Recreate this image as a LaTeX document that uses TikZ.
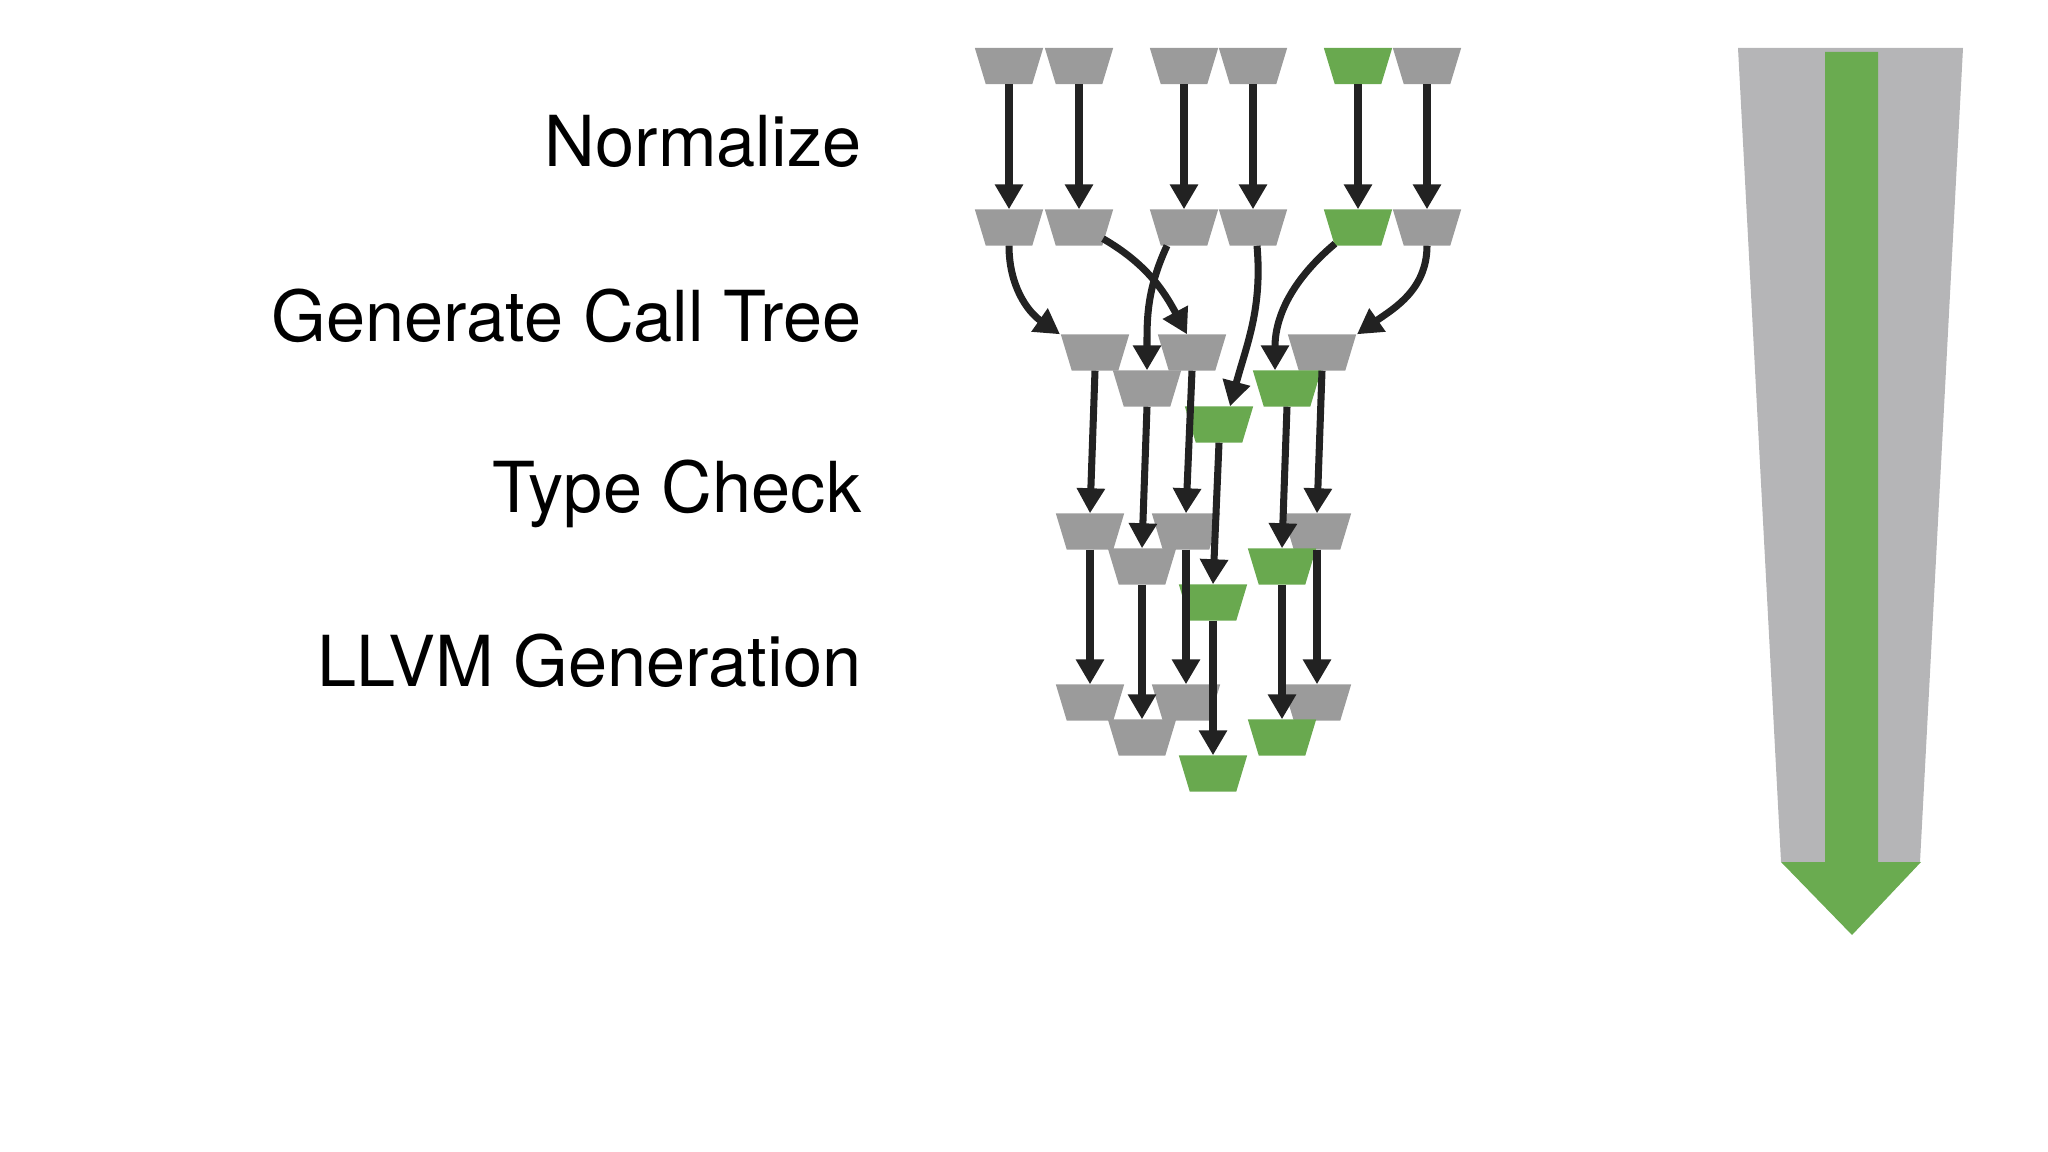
\documentclass[tikz,border=0pt]{standalone}
\usepackage{fontspec}
\setmainfont{TeX Gyre Heros}
\usetikzlibrary{arrows.meta,calc}
\definecolor{tgray}{HTML}{9B9B9B}
\definecolor{tgreen}{HTML}{69A94F}
\definecolor{bgray}{HTML}{B5B5B7}
\definecolor{bgreen}{HTML}{6AAB50}
\definecolor{arr}{HTML}{222222}
\newcommand\mytrap[4]{%
  \node[box] (#1) at (#2) {};
  \fill[#3] (#1.north west) -- (#1.north east) -- ($(#1.south east)+(-11,0)$) -- ($(#1.south west)+(11,0)$) -- cycle;}
\begin{document}
\begin{tikzpicture}[x=0.01cm,y=-0.01cm,
  box/.style={rectangle, minimum width=0.67cm, minimum height=0.35cm, inner sep=0pt, draw=none},
  ar/.style={draw=arr, line width=2pt, -{Triangle[width=0.27cm,length=0.25cm]}},
  lab/.style={anchor=base east, font=\fontsize{20}{24}\selectfont, text=black, inner sep=0pt}]
\useasboundingbox (0,0) rectangle (2048,1152);
% labels
\node[lab] (l1) at (862,167) {Normalize};
\node[lab] (l2) at (862,342) {Generate Call Tree};
\node[lab] (l3) at (862,512) {Type Check};
\node[lab] (l4) at (862,686) {LLVM Generation};
% row 1
\mytrap{a1}{1009,66}{tgray}{} \mytrap{a2}{1079,66}{tgray}{}
\mytrap{a3}{1184,66}{tgray}{} \mytrap{a4}{1253,66}{tgray}{}
\mytrap{a5}{1358,66}{tgreen}{} \mytrap{a6}{1427,66}{tgray}{}
% row 2
\mytrap{b1}{1009,227.5}{tgray}{} \mytrap{b2}{1079,227.5}{tgray}{}
\mytrap{b3}{1184,227.5}{tgray}{} \mytrap{b4}{1253,227.5}{tgray}{}
\mytrap{b5}{1358,227.5}{tgreen}{} \mytrap{b6}{1427,227.5}{tgray}{}
% row 3
\mytrap{c1}{1095,352.5}{tgray}{} \mytrap{c2}{1192,352.5}{tgray}{} \mytrap{c3}{1322,352.5}{tgray}{}
\mytrap{c4}{1147,388.5}{tgray}{} \mytrap{c5}{1287,388.5}{tgreen}{}
\mytrap{c6}{1219,424.5}{tgreen}{}
% row 4
\mytrap{d1}{1090,531.5}{tgray}{} \mytrap{d2}{1186,531.5}{tgray}{} \mytrap{d3}{1317,531.5}{tgray}{}
\mytrap{d4}{1142,566.5}{tgray}{} \mytrap{d5}{1282,566.5}{tgreen}{}
\mytrap{d6}{1213,602.5}{tgreen}{}
% row 5
\mytrap{e1}{1090,702.5}{tgray}{} \mytrap{e2}{1186,702.5}{tgray}{} \mytrap{e3}{1317,702.5}{tgray}{}
\mytrap{e4}{1142,737.5}{tgray}{} \mytrap{e5}{1282,737.5}{tgreen}{}
\mytrap{e6}{1213,773.5}{tgreen}{}
% arrows row1->row2
\foreach \i in {1,...,6} {\draw[ar] (a\i.south) -- (b\i.north);}
% curved arrows
\draw[ar] (b1.south) to[out=-90,in=145] ($(c1.north)+(-35,0)$);
\draw[ar] ($(b2.south)+(24,-7)$) to[out=-30,in=118] ($(c2.north)+(-5,0)$);
\draw[ar] ($(b3.south)+(-17,0)$) to[out=-115,in=90] (c4.north);
\draw[ar] ($(b4.south)+(4,0)$) to[out=-85,in=75] ($(c6.north)+(11,0)$);
\draw[ar] ($(b5.south)+(-23,-2)$) to[out=-140,in=90] ($(c5.north)+(-12,0)$);
\draw[ar] (b6.south) to[out=-90,in=35] ($(c3.north)+(35,0)$);
% straight arrows
\foreach \i in {1,...,6} {\draw[ar] (c\i.south) -- (d\i.north); \draw[ar] (d\i.south) -- (e\i.north);}
% big arrow
\fill[bgray] (1738,48) -- (1963,48) -- (1920,862) -- (1781,862) -- cycle;
\fill[bgreen] (1825,52) -- (1878,52) -- (1878,862) -- (1921,862) -- (1852,935) -- (1781,862) -- (1825,862) -- cycle;
\end{tikzpicture}
\end{document}
